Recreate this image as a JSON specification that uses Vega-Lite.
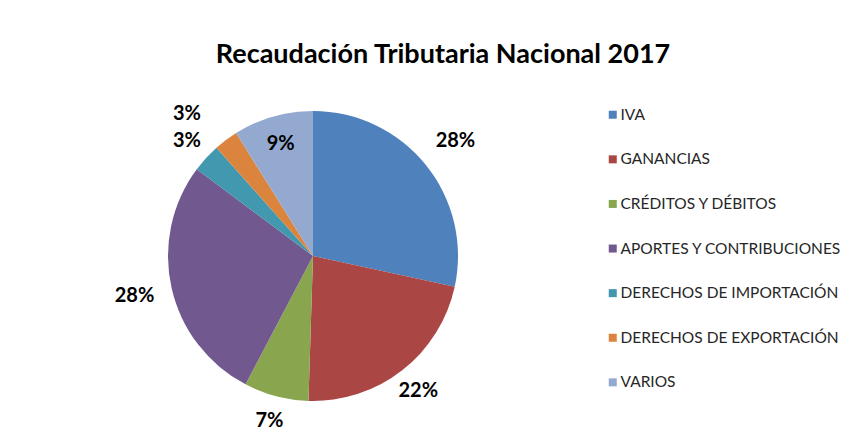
{
  "$schema": "https://vega.github.io/schema/vega-lite/v6.json",
  "autosize": {"type": "none"},
  "width": 626,
  "height": 312,
  "padding": {"left": 0, "top": 100, "right": 233, "bottom": 29},
  "background": "white",
  "config": {"view": {"stroke": null}},
  "title": {
    "text": "Recaudación Tributaria Nacional 2017",
    "font": "Lato",
    "fontSize": 27,
    "fontWeight": "bold",
    "color": "#000000",
    "anchor": "middle",
    "frame": "group",
    "dx": 130,
    "offset": 1
  },
  "data": {
    "values": [
      {"idx": 1, "concepto": "IVA", "valor": 28.4, "etiqueta": "28%"},
      {"idx": 2, "concepto": "GANANCIAS", "valor": 22.1, "etiqueta": "22%"},
      {"idx": 3, "concepto": "CRÉDITOS Y DÉBITOS", "valor": 7.2, "etiqueta": "7%"},
      {"idx": 4, "concepto": "APORTES Y CONTRIBUCIONES", "valor": 27.5, "etiqueta": "28%"},
      {"idx": 5, "concepto": "DERECHOS DE IMPORTACIÓN", "valor": 3.2, "etiqueta": "3%"},
      {"idx": 6, "concepto": "DERECHOS DE EXPORTACIÓN", "valor": 2.7, "etiqueta": "3%"},
      {"idx": 7, "concepto": "VARIOS", "valor": 8.9, "etiqueta": "9%"}
    ]
  },
  "encoding": {
    "theta": {"field": "valor", "type": "quantitative", "stack": true},
    "order": {"field": "idx", "type": "quantitative"}
  },
  "layer": [
    {
      "mark": {"type": "arc", "outerRadius": 145, "stroke": "white", "strokeWidth": 0},
      "encoding": {
        "color": {
          "field": "concepto",
          "type": "nominal",
          "sort": ["IVA", "GANANCIAS", "CRÉDITOS Y DÉBITOS", "APORTES Y CONTRIBUCIONES", "DERECHOS DE IMPORTACIÓN", "DERECHOS DE EXPORTACIÓN", "VARIOS"],
          "scale": {
            "domain": ["IVA", "GANANCIAS", "CRÉDITOS Y DÉBITOS", "APORTES Y CONTRIBUCIONES", "DERECHOS DE IMPORTACIÓN", "DERECHOS DE EXPORTACIÓN", "VARIOS"],
            "range": ["#4F81BD", "#AA4643", "#89A54E", "#71588F", "#4198AF", "#DB843D", "#93A9CF"]
          },
          "legend": {
            "title": null,
            "orient": "none",
            "legendX": 605,
            "legendY": 7,
            "symbolType": "square",
            "symbolSize": 64,
            "symbolStrokeWidth": 0,
            "labelFont": "Lato",
            "labelFontSize": 15.5,
            "labelColor": "#262626",
            "labelLimit": 300,
            "rowPadding": 27.6,
            "labelOffset": 0
          }
        }
      }
    },
    {
      "mark": {"type": "text", "font": "Lato", "fontSize": 20, "fontWeight": "bold", "color": "#000000"},
      "encoding": {
        "text": {
          "condition": {"test": "datum.concepto === 'IVA' || datum.concepto === 'APORTES Y CONTRIBUCIONES'", "field": "etiqueta"},
          "value": ""
        },
        "radius": {"value": 183}
      }
    },
    {
      "mark": {"type": "text", "font": "Lato", "fontSize": 20, "fontWeight": "bold", "color": "#000000"},
      "encoding": {
        "text": {
          "condition": {"test": "datum.concepto === 'GANANCIAS' || datum.concepto === 'CRÉDITOS Y DÉBITOS' || datum.concepto === 'DERECHOS DE IMPORTACIÓN'", "field": "etiqueta"},
          "value": ""
        },
        "radius": {"value": 171}
      }
    },
    {
      "mark": {"type": "text", "font": "Lato", "fontSize": 20, "fontWeight": "bold", "color": "#000000", "dx": -12, "dy": 10},
      "encoding": {
        "text": {
          "condition": {"test": "datum.concepto === 'DERECHOS DE EXPORTACIÓN'", "field": "etiqueta"},
          "value": ""
        },
        "radius": {"value": 190}
      }
    },
    {
      "mark": {"type": "text", "font": "Lato", "fontSize": 20, "fontWeight": "bold", "color": "#000000"},
      "encoding": {
        "text": {
          "condition": {"test": "datum.concepto === 'VARIOS'", "field": "etiqueta"},
          "value": ""
        },
        "radius": {"value": 117}
      }
    }
  ]
}
